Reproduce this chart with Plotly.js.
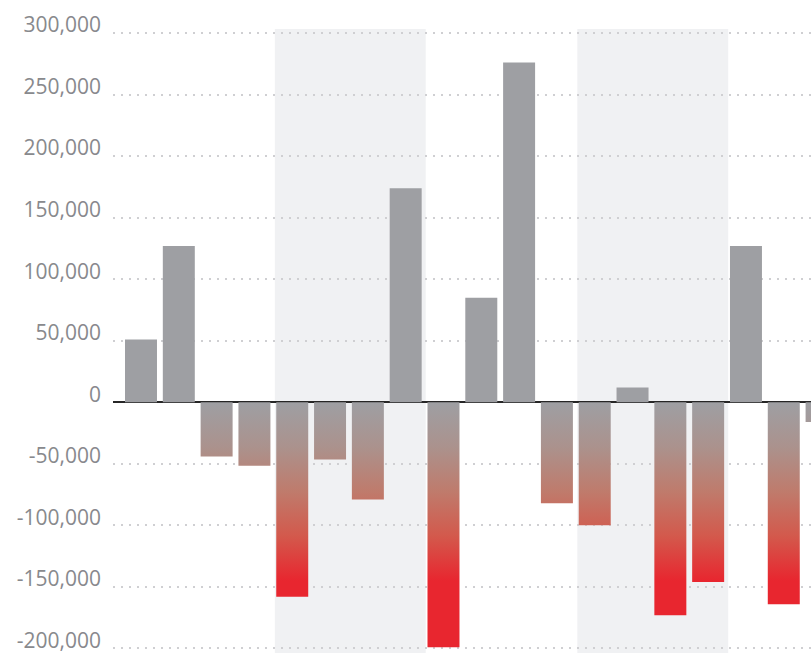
<!DOCTYPE html>
<html>
<head>
<meta charset="utf-8">
<script src="https://cdn.plot.ly/plotly-3.0.1.min.js"></script>
<style>
  html, body { margin: 0; padding: 0; background: #ffffff; }
  #chart { width: 811px; height: 653px; }
</style>
</head>
<body>
<div id="chart"></div>
<script>
// ---- data ----
var periods = [1, 2, 3, 4, 5, 6, 7, 8, 9, 10, 11, 12, 13, 14, 15, 16, 17, 18, 19];
var values = [51000, 127000, -44000, -51500, -158000, -46500, -79000, 174000, -199000,
              85000, 276000, -82000, -100000, 12000, -173000, -146000, 127000, -164000, -16000];
// periods that sit on a shaded band (first and last period of each band)
var shadedBands = [[5, 8], [13, 16]];
var tickValues = [-200000, -150000, -100000, -50000, 0, 50000, 100000, 150000, 200000, 250000, 300000];
var tickLabels = ["-200,000", "-150,000", "-100,000", "-50,000", "0", "50,000", "100,000", "150,000", "200,000", "250,000", "300,000"];

// ---- styles ----
var GRAY = '#9e9fa3';
var RED = '#e8262f';

var barColors = values.map(function (v) { return v >= 0 ? GRAY : RED; });

var shapes = shadedBands.map(function (b) {
  return {
    type: 'rect', xref: 'x', yref: 'paper', layer: 'between',
    x0: b[0] - 0.46, x1: b[1] + 0.53, y0: 0, y1: 1,
    fillcolor: '#f0f1f3', line: { width: 0 }
  };
});

var trace = {
  type: 'bar',
  x: periods,
  y: values,
  marker: { color: barColors, line: { width: 0 } },
  hoverinfo: 'skip'
};

var layout = {
  width: 811, height: 653,
  margin: { l: 113, r: 0, t: 29, b: 0, pad: 0 },
  paper_bgcolor: '#ffffff',
  plot_bgcolor: '#ffffff',
  showlegend: false,
  bargap: 0.154,
  shapes: shapes,
  xaxis: {
    range: [0.2595, 18.72],
    showticklabels: false, showgrid: false, zeroline: false,
    showline: false, ticks: ''
  },
  yaxis: {
    range: [-203700, 303300],
    tickvals: tickValues, ticktext: tickLabels,
    showgrid: true, gridcolor: '#cfcfd2', gridwidth: 2, griddash: '2px,6px',
    zeroline: true, zerolinecolor: '#262626', zerolinewidth: 2.2,
    showline: false, ticks: '',
    ticklabelstandoff: 11,
    ticklabelshift: -8,
    ticklabeloverflow: 'allow',
    tickfont: { family: 'Open Sans, Liberation Sans, sans-serif', size: 21, color: '#88898d' }
  }
};

var gd = document.getElementById('chart');
Plotly.newPlot(gd, [trace], layout, { staticPlot: true, displayModeBar: false }).then(function () {
  var ya = gd._fullLayout.yaxis;
  var svg = gd.querySelector('svg.main-svg');
  var defs = svg.querySelector('defs');
  var NS = 'http://www.w3.org/2000/svg';
  var grad = document.createElementNS(NS, 'linearGradient');
  grad.setAttribute('id', 'negGrad');
  grad.setAttribute('gradientUnits', 'userSpaceOnUse');
  grad.setAttribute('x1', '0'); grad.setAttribute('x2', '0');
  grad.setAttribute('y1', String(ya.l2p(0)));
  grad.setAttribute('y2', String(ya.l2p(-145000)));
  [[0, GRAY], [0.25, '#ab928d'], [0.5, '#bf7b6c'], [0.75, '#d3594c'], [1, RED]].forEach(function (s) {
    var st = document.createElementNS(NS, 'stop');
    st.setAttribute('offset', String(s[0]));
    st.setAttribute('stop-color', s[1]);
    grad.appendChild(st);
  });
  defs.appendChild(grad);
  var paths = gd.querySelectorAll('.barlayer .point path');
  paths.forEach(function (p, i) {
    if (values[i] < 0) { p.style.fill = 'url(#negGrad)'; }
  });
});
</script>
</body>
</html>
